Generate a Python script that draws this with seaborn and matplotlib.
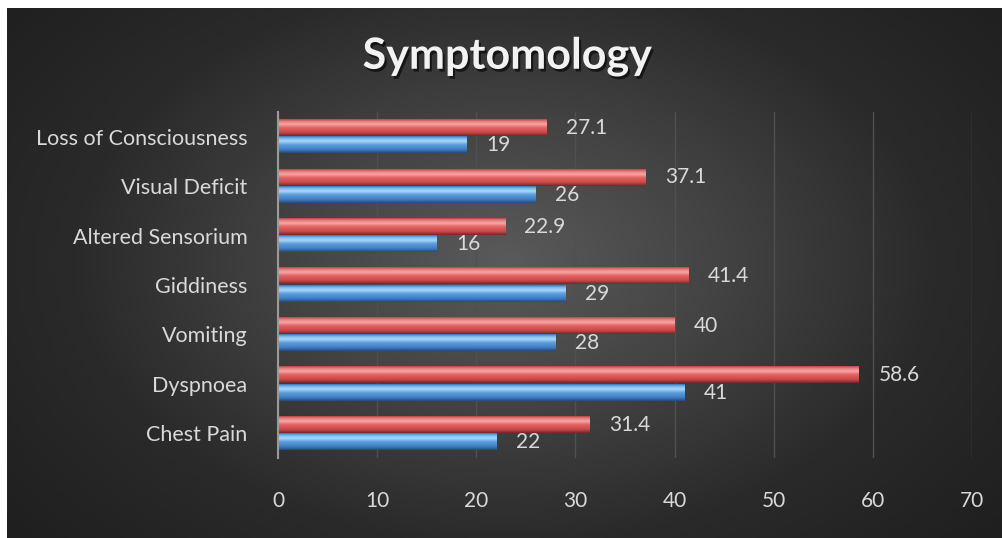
import numpy as np
import pandas as pd
import matplotlib
matplotlib.use("Agg")
import matplotlib.pyplot as plt
import matplotlib.patheffects as pe
from matplotlib.colors import LinearSegmentedColormap
import seaborn as sns

categories = ["Loss of Consciousness", "Visual Deficit", "Altered Sensorium",
              "Giddiness", "Vomiting", "Dyspnoea", "Chest Pain"]
percent_values = [27.1, 37.1, 22.9, 41.4, 40, 58.6, 31.4]
count_values = [19, 26, 16, 29, 28, 41, 22]
x_ticks = [0, 10, 20, 30, 40, 50, 60, 70]

df = pd.DataFrame({
    "Symptom": categories * 2,
    "Value": percent_values + count_values,
    "Series": ["Percent"] * len(categories) + ["Count"] * len(categories),
})

sns.set_theme(style="dark")
plt.rcParams["font.family"] = ["Lato", "DejaVu Sans"]

W, H = 1003, 538
fig = plt.figure(figsize=(W / 100, H / 100), dpi=100)
fig.patch.set_facecolor("white")

# radial gradient background
bg = fig.add_axes([7 / W, 0, 1 - 7 / W, 1 - 8 / H], zorder=0)
yy, xx = np.mgrid[0:1:300j, 0:1:560j]
r = np.sqrt(((xx - 0.5) / 0.65) ** 2 + ((yy - 0.48) / 0.8) ** 2)
r = np.clip(r, 0, 1)
bgcmap = LinearSegmentedColormap.from_list("bg", ["#5a5a5a", "#434343", "#2a2a2a", "#1f1f1f"])
bg.imshow(r, cmap=bgcmap, aspect="auto", extent=[0, 1, 0, 1], vmin=0, vmax=1)
bg.set_axis_off()

ax = fig.add_axes([278 / W, 1 - 458 / H, (972 - 278) / W, (458 - 112) / H], zorder=1)
ax.patch.set_alpha(0)

sns.barplot(data=df, y="Symptom", x="Value", hue="Series", order=categories,
            hue_order=["Percent", "Count"], palette=["#d95b5b", "#4f8fd0"],
            orient="h", width=0.70, gap=0.06, ax=ax, legend=False, zorder=3)

red_cmap = LinearSegmentedColormap.from_list(
    "r", [(0, "#b84444"), (0.12, "#e47b7b"), (0.3, "#f7a8a8"), (0.5, "#e36464"),
          (0.8, "#c84848"), (1, "#7a2424")])
blue_cmap = LinearSegmentedColormap.from_list(
    "b", [(0, "#3a70b0"), (0.12, "#78b4ea"), (0.3, "#a9d9fb"), (0.5, "#5f9fdc"),
          (0.8, "#3f7cc0"), (1, "#224c84")])
grad = np.linspace(0, 1, 64).reshape(-1, 1)

for cont, cmap in zip(ax.containers, [red_cmap, blue_cmap]):
    for p in cont:
        x0, y0 = p.get_x(), p.get_y()
        w, h = p.get_width(), p.get_height()
        ax.imshow(grad, cmap=cmap, aspect="auto", extent=[x0, x0 + w, y0 + h, y0],
                  zorder=4, interpolation="bilinear")
        p.set_edgecolor("none")

for cont in ax.containers:
    ax.bar_label(cont, fmt="%g", padding=14, color="#d9d9d9", fontsize=15, zorder=6)

ax.set_xlim(0, 70)
ax.set_ylim(len(categories) - 0.5, -0.5)
ax.set_xticks(x_ticks)
ax.set_xticklabels([str(t) for t in x_ticks])
ax.tick_params(axis="x", colors="#d9d9d9", labelsize=15, length=0, pad=24)
ax.tick_params(axis="y", colors="#d9d9d9", labelsize=15.5, length=0, pad=22)
for lab in ax.get_xticklabels() + ax.get_yticklabels():
    lab.set_color("#d9d9d9")
ax.set_xlabel("")
ax.set_ylabel("")
ax.grid(axis="x", color="#505050", linewidth=1, zorder=1)
ax.grid(axis="y", visible=False)
for s in ["top", "right", "bottom"]:
    ax.spines[s].set_visible(False)
ax.spines["left"].set_color("#9a9a9a")
ax.spines["left"].set_linewidth(1.5)
ax.spines["left"].set_zorder(7)

fig.text(507 / W, 1 - 56 / H, "Symptomology", ha="center", va="center",
         fontsize=31, fontweight="bold", color="#f2f2f2",
         path_effects=[pe.withSimplePatchShadow(offset=(1.5, -2), shadow_rgbFace="black", alpha=0.6)])

fig.savefig("out.png", dpi=100)
